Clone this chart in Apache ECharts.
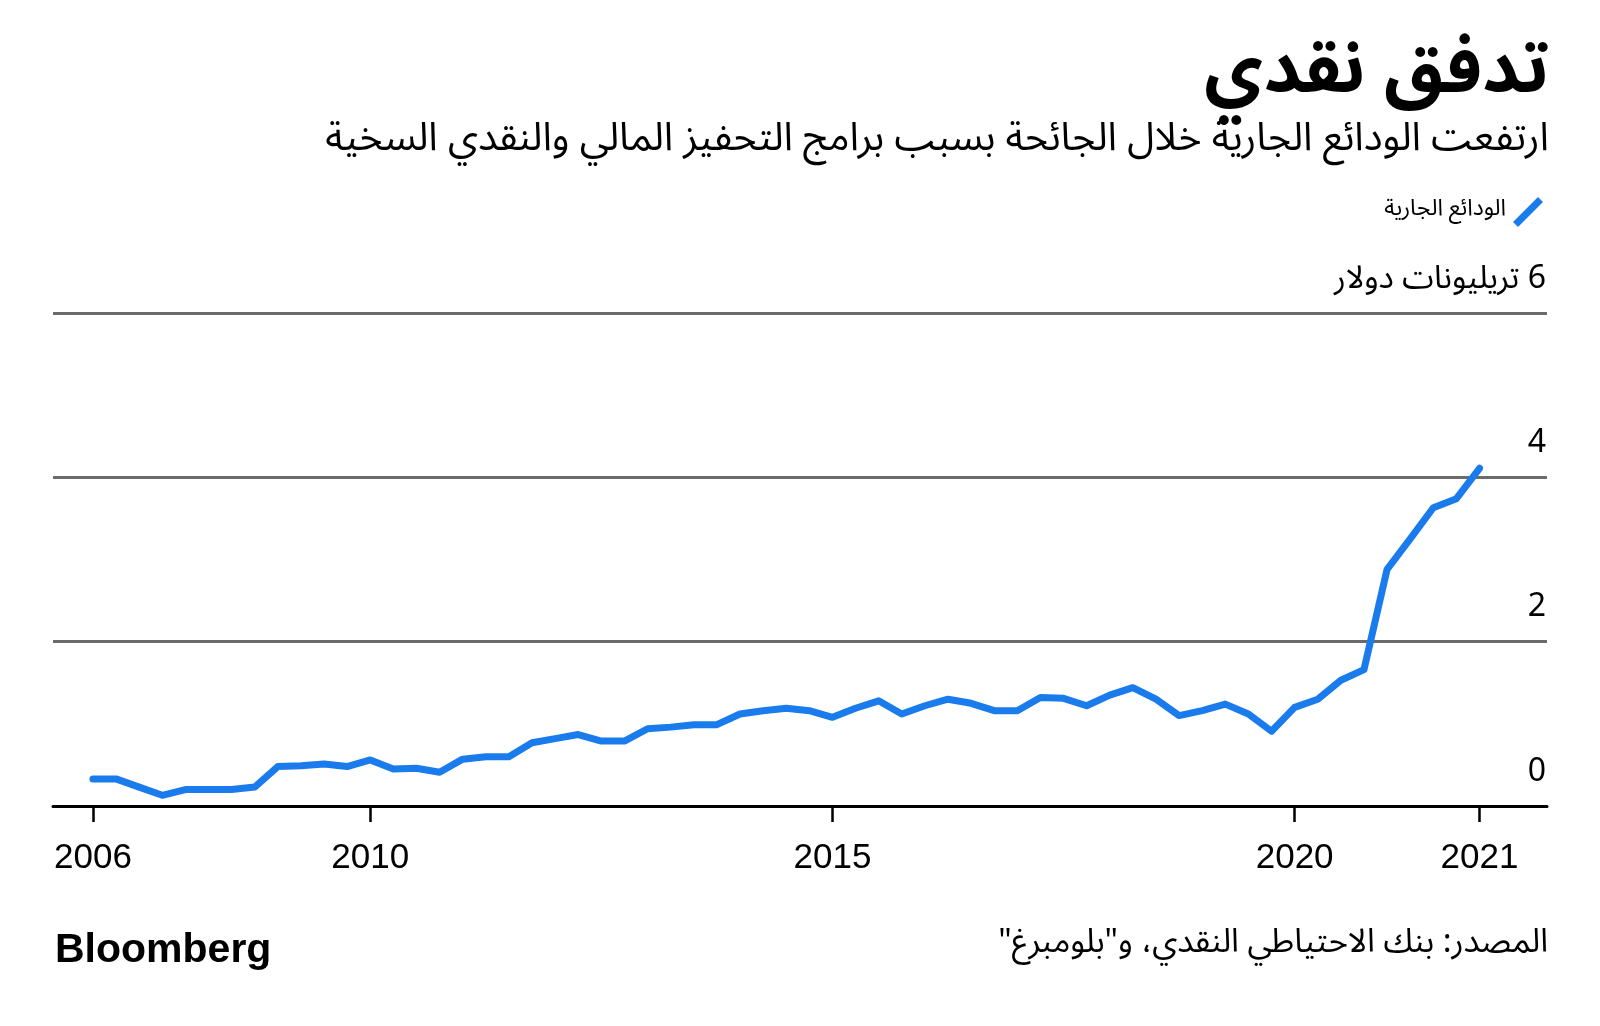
<!DOCTYPE html>
<html>
<head>
<meta charset="utf-8">
<script src="https://cdn.jsdelivr.net/npm/echarts@6/dist/echarts.min.js"></script>
<style>
html,body{margin:0;padding:0;background:#fff;}
#chart{width:1600px;height:1026px;}
</style>
</head>
<body>
<div id="chart"></div>
<script>
// ---- data ----
const titleText = 'تدفق نقدي';
const subtitleText = 'ارتفعت الودائع الجارية خلال الجائحة بسبب برامج التحفيز المالي والنقدي السخية';
const seriesName = 'الودائع الجارية';
const unitLabel = '6 تريليونات دولار';
const sourceText = 'المصدر: بنك الاحتياطي النقدي، و"بلومبرغ"';
const xTickIndex = [0, 12, 32, 52, 60];
const xTickLabels = ['2006', '2010', '2015', '2020', '2021'];
const yTicks = [0, 2, 4, 6];
const deposits = [
  0.33, 0.33, 0.23, 0.13, 0.20, 0.20, 0.20, 0.23, 0.48, 0.49,
  0.51, 0.48, 0.56, 0.45, 0.46, 0.41, 0.57, 0.60, 0.60, 0.77,
  0.82, 0.87, 0.79, 0.79, 0.94, 0.96, 0.99, 0.99, 1.12, 1.16,
  1.19, 1.16, 1.08, 1.19, 1.28, 1.12, 1.22, 1.30, 1.25, 1.16,
  1.16, 1.32, 1.31, 1.22, 1.35, 1.44, 1.30, 1.10, 1.16, 1.24,
  1.12, 0.91, 1.20, 1.30, 1.53, 1.66, 2.88, 3.25, 3.63, 3.74,
  4.11
];

const RTL = s => '\u202B' + s + '\u202C';
const AR = "'Noto Sans Arabic', 'DejaVu Sans', sans-serif";
const LAT = "'Liberation Sans', Arial, sans-serif";
const BLUE = '#1a7cec';

const chart = echarts.init(document.getElementById('chart'), null, {renderer: 'canvas'});
chart.setOption({
  backgroundColor: '#ffffff',
  animation: false,
  title: [
    {text: RTL(titleText), right: 46, top: 40,
     textStyle: {fontFamily: AR, fontSize: 72, fontWeight: 'bold', color: '#000'}},
    {text: RTL(subtitleText), right: 46, top: 119,
     textStyle: {fontFamily: AR, fontSize: 39.5, fontWeight: 'normal', color: '#000'}},
    {text: RTL(sourceText), right: 47, top: 926,
     textStyle: {fontFamily: AR, fontSize: 33, fontWeight: 'normal', color: '#000'}},
    {text: 'Bloomberg', left: 50, top: 925,
     textStyle: {fontFamily: LAT, fontSize: 41, fontWeight: 'bold', color: '#000'}}
  ],
  legend: {
    right: 52, top: 192,
    align: 'right',
    icon: 'path://M0,25 L25,0 L30,5 L5,30 Z',
    itemWidth: 30, itemHeight: 30,
    textStyle: {fontFamily: AR, fontSize: 23, color: '#000', padding: [0, 2, 0, 0]},
    data: [{name: seriesName, itemStyle: {color: BLUE}}]
  },
  grid: {left: 53, right: 53, top: 313, bottom: 220, containLabel: false},
  xAxis: {
    type: 'value',
    min: -1.727, max: 62.92,
    splitLine: {show: false},
    axisLine: {show: true, onZero: false, lineStyle: {color: '#000', width: 3}},
    axisTick: {show: true, customValues: xTickIndex, length: 16, lineStyle: {color: '#000', width: 2.5}},
    axisLabel: {
      show: true, customValues: xTickIndex, margin: 35,
      fontFamily: LAT, fontSize: 35, color: '#000',
      formatter: v => xTickLabels[xTickIndex.indexOf(Math.round(v))] || ''
    }
  },
  yAxis: {
    type: 'value', position: 'right',
    min: 0, max: 6, interval: 2,
    axisLine: {show: false},
    axisTick: {show: false},
    splitLine: {show: true, lineStyle: {color: '#6b6b6b', width: 3}},
    axisLabel: {
      inside: true, margin: 1, align: 'right', verticalAlign: 'bottom',
      padding: [0, 0, 14, 0],
      fontFamily: AR, fontSize: 32, color: '#000',
      formatter: v => v === 6 ? RTL(unitLabel) : (yTicks.indexOf(v) >= 0 ? String(v) : '')
    }
  },
  series: [{
    name: seriesName,
    type: 'line',
    data: deposits.map((v, i) => [i, v]),
    showSymbol: false,
    symbol: 'none',
    lineStyle: {color: BLUE, width: 7, cap: 'round', join: 'round'},
    itemStyle: {color: BLUE},
    z: 5
  }]
});
</script>
</body>
</html>
